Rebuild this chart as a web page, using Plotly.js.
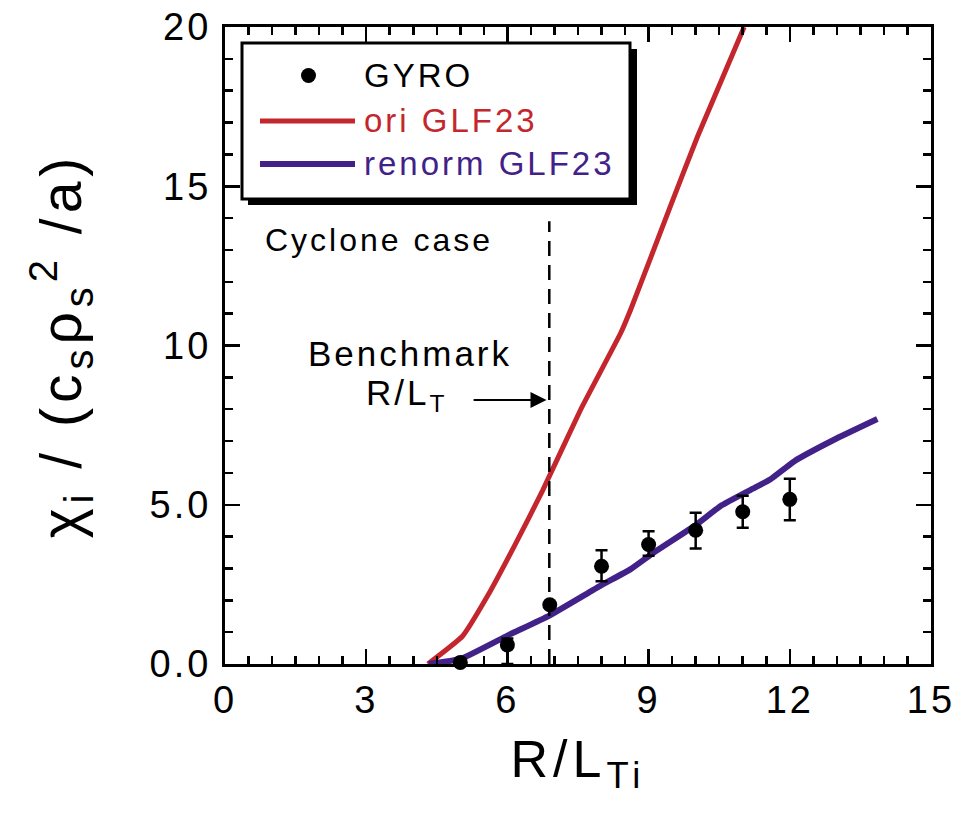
<!DOCTYPE html>
<html>
<head>
<meta charset="utf-8">
<script src="https://cdn.plot.ly/plotly-3.0.1.min.js"></script>
<style>
  html, body { margin: 0; padding: 0; background: #fff; }
  #chart { width: 973px; height: 817px; }
  .xtick text, .ytick text { letter-spacing: 3px; }
  .xtitle { letter-spacing: 5px; }
  .ytitle { letter-spacing: 5px; }
  .annotation-text { letter-spacing: 3px; }
</style>
</head>
<body>
<div id="chart"></div>
<script>
// ---- data ----
const gyroX = [5, 6, 6.9, 8, 9, 10, 11, 12];
const gyroY = [0.05, 0.6, 1.86, 3.07, 3.75, 4.2, 4.78, 5.17];
const gyroErrPlus = [0, 0.2, 0, 0.5, 0.42, 0.55, 0.5, 0.65];
const gyroErrMinus = [0, 0.6, 0, 0.47, 0.35, 0.57, 0.5, 0.66];

const oriX = [4.31, 5.05, 5.58, 6.15, 6.75, 7.56, 8.41, 8.62, 9.47, 10.04, 11.03];
const oriY = [0.0, 0.88, 2.14, 3.71, 5.45, 8.0, 10.4, 11.13, 14.4, 16.56, 20.0];

const renX = [4.33, 5.01, 6.0, 6.89, 7.98, 8.62, 9.11, 9.98, 10.53, 11.17, 11.59, 12.09, 12.94, 13.86];
const renY = [0.0, 0.16, 0.89, 1.52, 2.46, 2.98, 3.5, 4.34, 4.96, 5.47, 5.8, 6.36, 7.04, 7.69];

const yTickVals = [0, 5, 10, 15, 20];
const yTickText = ['0.0', '5.0', '10', '15', '20'];
const xTickVals = [0, 3, 6, 9, 12, 15];

const benchmarkX = 6.89;
const legendNames = ['GYRO', 'ori GLF23', 'renorm GLF23'];

const RED = 'rgb(196,38,46)';
const PURPLE = 'rgb(66,34,136)';
const FONT = 'Liberation Sans, Arial, Helvetica, sans-serif';

// plot area in pixels
const L = 225, R = 931, T = 27, B = 664;
const W = 973, H = 817;
const px = v => (v - L) / (R - L);   // pixel x -> paper
const py = v => (B - v) / (B - T);   // pixel y -> paper

const traces = [
  {
    x: oriX, y: oriY, mode: 'lines', type: 'scatter',
    line: { color: RED, width: 5, shape: 'spline', smoothing: 0.4 }, name: legendNames[1], showlegend: false
  },
  {
    x: renX, y: renY, mode: 'lines', type: 'scatter',
    line: { color: PURPLE, width: 6, shape: 'spline', smoothing: 0.4 }, name: legendNames[2], showlegend: false
  },
  {
    x: gyroX, y: gyroY, mode: 'markers', type: 'scatter',
    marker: { color: '#000', size: 15 },
    error_y: { type: 'data', symmetric: false, array: gyroErrPlus, arrayminus: gyroErrMinus,
               color: '#000', thickness: 2.5, width: 6 },
    name: legendNames[0], showlegend: false, cliponaxis: false
  }
];

const shapes = [
  // benchmark dashed line
  { type: 'line', xref: 'x', yref: 'y', x0: benchmarkX, x1: benchmarkX, y0: 0, y1: 13.9,
    line: { color: '#000', width: 2.5, dash: '15px,9px' } },
  // legend shadow
  { type: 'rect', xref: 'paper', yref: 'paper', x0: px(248), x1: px(637), y0: py(205), y1: py(49),
    fillcolor: '#000', line: { width: 0 } },
  // legend box
  { type: 'rect', xref: 'paper', yref: 'paper', x0: px(242), x1: px(630), y0: py(199), y1: py(43),
    fillcolor: '#fff', line: { color: '#000', width: 3 } },
  // legend dot
  { type: 'circle', xref: 'paper', yref: 'paper', x0: px(301), x1: px(316), y0: py(83), y1: py(68),
    fillcolor: '#000', line: { width: 0 } },
  // legend red line
  { type: 'line', xref: 'paper', yref: 'paper', x0: px(260), x1: px(355), y0: py(121), y1: py(121),
    line: { color: RED, width: 5 } },
  // legend purple line
  { type: 'line', xref: 'paper', yref: 'paper', x0: px(260), x1: px(355), y0: py(164), y1: py(164),
    line: { color: PURPLE, width: 6 } }
];

const annotations = [
  { xref: 'paper', yref: 'paper', x: px(362), y: py(76), xanchor: 'left', yanchor: 'middle',
    text: legendNames[0], showarrow: false, font: { family: FONT, size: 33, color: '#000' } },
  { xref: 'paper', yref: 'paper', x: px(362), y: py(121), xanchor: 'left', yanchor: 'middle',
    text: legendNames[1], showarrow: false, font: { family: FONT, size: 33, color: RED } },
  { xref: 'paper', yref: 'paper', x: px(362), y: py(164), xanchor: 'left', yanchor: 'middle',
    text: legendNames[2], showarrow: false, font: { family: FONT, size: 33, color: PURPLE } },
  { xref: 'x', yref: 'y', x: 0.81, y: 13.31, xanchor: 'left', yanchor: 'middle',
    text: 'Cyclone case', showarrow: false, font: { family: FONT, size: 32, color: '#000' } },
  { xref: 'x', yref: 'y', x: 3.92, y: 9.74, xanchor: 'center', yanchor: 'middle',
    text: 'Benchmark', showarrow: false, font: { family: FONT, size: 35, color: '#000' } },
  { xref: 'x', yref: 'y', x: 3.85, y: 8.45, xanchor: 'center', yanchor: 'middle',
    text: 'R/L<sub>T</sub>', showarrow: false, font: { family: FONT, size: 35, color: '#000' } },
  // arrow
  { xref: 'x', yref: 'y', axref: 'x', ayref: 'y', x: 6.83, y: 8.29, ax: 5.25, ay: 8.29,
    text: '', showarrow: true, arrowhead: 2, arrowsize: 1.6, arrowwidth: 2, arrowcolor: '#000',
    standoff: 0, startstandoff: 0 }
];

const axisCommon = {
  showgrid: false, zeroline: false, showline: true, linecolor: '#000', linewidth: 3,
  mirror: 'allticks', ticks: 'inside', ticklen: 15, tickwidth: 2.5, tickcolor: '#000',
  tickfont: { family: FONT, size: 38, color: '#000' }
};

const layout = {
  width: W, height: H,
  margin: { l: L, r: W - R, t: T, b: H - B },
  paper_bgcolor: '#fff', plot_bgcolor: '#fff',
  showlegend: false,
  xaxis: Object.assign({}, axisCommon, {
    range: [0, 15], tickvals: xTickVals, ticklabelstandoff: 0,
    minor: { dtick: 0.5, ticks: 'inside', ticklen: 8, tickwidth: 2.5, tickcolor: '#000', showgrid: false },
    title: { text: 'R/L<sub>Ti</sub>', standoff: 22, font: { family: FONT, size: 52, color: '#000' } }
  }),
  yaxis: Object.assign({}, axisCommon, {
    range: [0, 20], tickvals: yTickVals, ticktext: yTickText, ticklabelstandoff: 3,
    minor: { dtick: 1, ticks: 'inside', ticklen: 8, tickwidth: 2.5, tickcolor: '#000', showgrid: false },
    title: { text: 'χ<sub>i</sub> / (c<sub>s</sub>ρ<sub>s</sub><sup>2</sup> /a)', standoff: 50,
             font: { family: FONT, size: 57, color: '#000' } }
  }),
  shapes: shapes,
  annotations: annotations
};

Plotly.newPlot('chart', traces, layout, { displayModeBar: false, staticPlot: true });
</script>
</body>
</html>
